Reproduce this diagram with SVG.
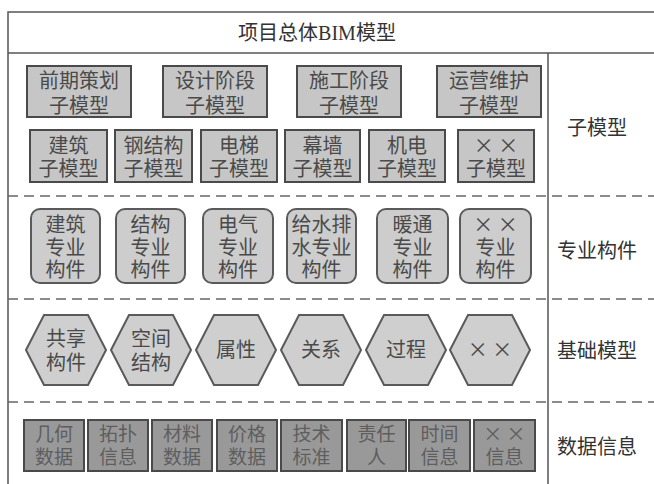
<svg xmlns="http://www.w3.org/2000/svg" width="654" height="484" viewBox="0 0 654 484">
<style>
text{font-family:"Noto Sans CJK SC","Liberation Sans",sans-serif;font-size:20px;text-anchor:middle;fill:#4a4a4a}
.title{font-family:"Liberation Serif","Noto Sans CJK SC",serif;font-size:20px;fill:#333}
.lab{fill:#333}
.frame{stroke:#555;stroke-width:1.5;fill:none}
.dash{stroke:#666;stroke-width:1.3;stroke-dasharray:10 6;fill:none}
.sq{fill:#c6c6c6;stroke:#4a4a4a;stroke-width:2}
.rr{fill:#cdcdcd;stroke:#5a5a5a;stroke-width:2}
.hx{fill:#cfcfcf;stroke:#5a5a5a;stroke-width:2}
.dk{fill:#999;stroke:#4a4a4a;stroke-width:2}
.dt{fill:#5e5e5e;font-size:19px}
</style>
<rect width="654" height="484" fill="#fff"/>
<g id="frame">
<path class="frame" d="M8,484V12H654M8,53H654M548,53V484"/>
<path class="dash" d="M8,196H654M8,299H654M8,402H654"/>
</g>
<g id="connectors"/>
<g id="title"><text class="title" x="317" y="40">项目总体BIM模型</text></g>
<g id="labels">
<text class="lab" x="597" y="135">子模型</text>
<text class="lab" x="597" y="258">专业构件</text>
<text class="lab" x="597" y="358">基础模型</text>
<text class="lab" x="597" y="454">数据信息</text>
</g>
<g id="stage1"><rect class="sq" x="27" y="66" width="104" height="51"/><text x="79" y="88">前期策划</text><text x="79" y="113">子模型</text></g>
<g id="stage2"><rect class="sq" x="163" y="66" width="104" height="51"/><text x="215" y="88">设计阶段</text><text x="215" y="113">子模型</text></g>
<g id="stage3"><rect class="sq" x="297" y="66" width="104" height="51"/><text x="349" y="88">施工阶段</text><text x="349" y="113">子模型</text></g>
<g id="stage4"><rect class="sq" x="437" y="66" width="104" height="51"/><text x="489" y="88">运营维护</text><text x="489" y="113">子模型</text></g>
<g id="sub1"><rect class="sq" x="30" y="130" width="77" height="52"/><text x="68.5" y="153">建筑</text><text x="68.5" y="176">子模型</text></g>
<g id="sub2"><rect class="sq" x="115" y="130" width="77" height="52"/><text x="153.5" y="153">钢结构</text><text x="153.5" y="176">子模型</text></g>
<g id="sub3"><rect class="sq" x="201" y="130" width="76" height="52"/><text x="239" y="153">电梯</text><text x="239" y="176">子模型</text></g>
<g id="sub4"><rect class="sq" x="285" y="130" width="75" height="52"/><text x="322.5" y="153">幕墙</text><text x="322.5" y="176">子模型</text></g>
<g id="sub5"><rect class="sq" x="369" y="130" width="76" height="52"/><text x="407" y="153">机电</text><text x="407" y="176">子模型</text></g>
<g id="sub6"><rect class="sq" x="458" y="130" width="76" height="52"/><text x="496" y="153">× ×</text><text x="496" y="176">子模型</text></g>
<g id="comp1"><rect class="rr" x="31" y="209" width="69" height="74" rx="9"/><text x="65.5" y="232">建筑</text><text x="65.5" y="255">专业</text><text x="65.5" y="277">构件</text></g>
<g id="comp2"><rect class="rr" x="116" y="209" width="69" height="74" rx="9"/><text x="150.5" y="232">结构</text><text x="150.5" y="255">专业</text><text x="150.5" y="277">构件</text></g>
<g id="comp3"><rect class="rr" x="203" y="209" width="70" height="74" rx="9"/><text x="238" y="232">电气</text><text x="238" y="255">专业</text><text x="238" y="277">构件</text></g>
<g id="comp4"><rect class="rr" x="287" y="209" width="69" height="74" rx="9"/><text x="321.5" y="232">给水排</text><text x="321.5" y="255">水专业</text><text x="321.5" y="277">构件</text></g>
<g id="comp5"><rect class="rr" x="377" y="209" width="71" height="74" rx="9"/><text x="412.5" y="232">暖通</text><text x="412.5" y="255">专业</text><text x="412.5" y="277">构件</text></g>
<g id="comp6"><rect class="rr" x="460" y="209" width="71" height="74" rx="9"/><text x="495.5" y="232">× ×</text><text x="495.5" y="255">专业</text><text x="495.5" y="277">构件</text></g>
<g id="base1"><polygon class="hx" points="26,350 44,315 88,315 106,350 88,385 44,385"/><text x="66" y="346">共享</text><text x="66" y="370">构件</text></g>
<g id="base2"><polygon class="hx" points="111,350 129,315 173,315 191,350 173,385 129,385"/><text x="151" y="346">空间</text><text x="151" y="370">结构</text></g>
<g id="base3"><polygon class="hx" points="196,350 214,315 258,315 276,350 258,385 214,385"/><text x="236" y="357">属性</text></g>
<g id="base4"><polygon class="hx" points="281,350 299,315 343,315 361,350 343,385 299,385"/><text x="321" y="357">关系</text></g>
<g id="base5"><polygon class="hx" points="366,350 384,315 428,315 446,350 428,385 384,385"/><text x="406" y="357">过程</text></g>
<g id="base6"><polygon class="hx" points="450,350 468,315 512,315 530,350 512,385 468,385"/><text x="490" y="357">× ×</text></g>
<g id="data1"><rect class="dk" x="24" y="420" width="60" height="51"/><text class="dt" x="54" y="441">几何</text><text class="dt" x="54" y="464">数据</text></g>
<g id="data2"><rect class="dk" x="88" y="420" width="60" height="51"/><text class="dt" x="118" y="441">拓扑</text><text class="dt" x="118" y="464">信息</text></g>
<g id="data3"><rect class="dk" x="152" y="420" width="60" height="51"/><text class="dt" x="182" y="441">材料</text><text class="dt" x="182" y="464">数据</text></g>
<g id="data4"><rect class="dk" x="217" y="420" width="60" height="51"/><text class="dt" x="247" y="441">价格</text><text class="dt" x="247" y="464">数据</text></g>
<g id="data5"><rect class="dk" x="281" y="420" width="61" height="51"/><text class="dt" x="311.5" y="441">技术</text><text class="dt" x="311.5" y="464">标准</text></g>
<g id="data6"><rect class="dk" x="347" y="420" width="59" height="51"/><text class="dt" x="376.5" y="441">责任</text><text class="dt" x="376.5" y="464">人</text></g>
<g id="data7"><rect class="dk" x="409" y="420" width="61" height="51"/><text class="dt" x="439.5" y="441">时间</text><text class="dt" x="439.5" y="464">信息</text></g>
<g id="data8"><rect class="dk" x="474" y="420" width="61" height="51"/><text class="dt" x="504.5" y="441">× ×</text><text class="dt" x="504.5" y="464">信息</text></g>
</svg>
